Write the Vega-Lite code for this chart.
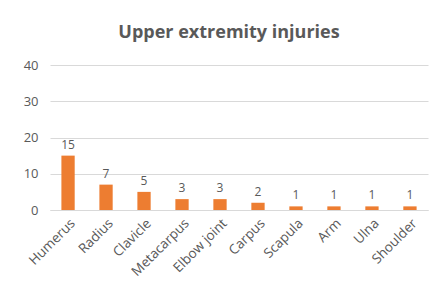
{
  "$schema": "https://vega.github.io/schema/vega-lite/v6.json",
  "autosize": "none",
  "width": 378,
  "height": 145,
  "padding": {"left": 50, "top": 65, "right": 9, "bottom": 96},
  "background": "white",
  "title": {"text": "Upper extremity injuries", "fontSize": 18, "font": "Open Sans", "fontWeight": "bold", "color": "#595959", "offset": 17, "anchor": "middle", "dx": -10},
  "data": {"values": [
    {"part": "Humerus", "n": 15},
    {"part": "Radius", "n": 7},
    {"part": "Clavicle", "n": 5},
    {"part": "Metacarpus", "n": 3},
    {"part": "Elbow joint", "n": 3},
    {"part": "Carpus", "n": 2},
    {"part": "Scapula", "n": 1},
    {"part": "Arm", "n": 1},
    {"part": "Ulna", "n": 1},
    {"part": "Shoulder", "n": 1}
  ]},
  "encoding": {
    "x": {"field": "part", "type": "nominal", "sort": null, "title": null,
      "scale": {"paddingInner": 0.65, "paddingOuter": 0.3},
      "axis": {"labelAngle": -45, "labelFont": "Open Sans", "labelFontSize": 13.5, "labelColor": "#595959", "ticks": false, "domainColor": "#d9d9d9", "labelPadding": 6}},
    "y": {"field": "n", "type": "quantitative", "title": null,
      "scale": {"domain": [0, 40]},
      "axis": {"values": [0, 10, 20, 30, 40], "domain": false, "ticks": false, "gridColor": "#d9d9d9", "labelFont": "Open Sans", "labelFontSize": 13, "labelColor": "#595959", "labelPadding": 12}}
  },
  "layer": [
    {"mark": {"type": "bar", "color": "#ED7D31"}},
    {"mark": {"type": "text", "dy": -11, "font": "Open Sans", "fontSize": 12, "color": "#595959"}, "encoding": {"text": {"field": "n"}}}
  ],
  "config": {"view": {"stroke": null}}
}
